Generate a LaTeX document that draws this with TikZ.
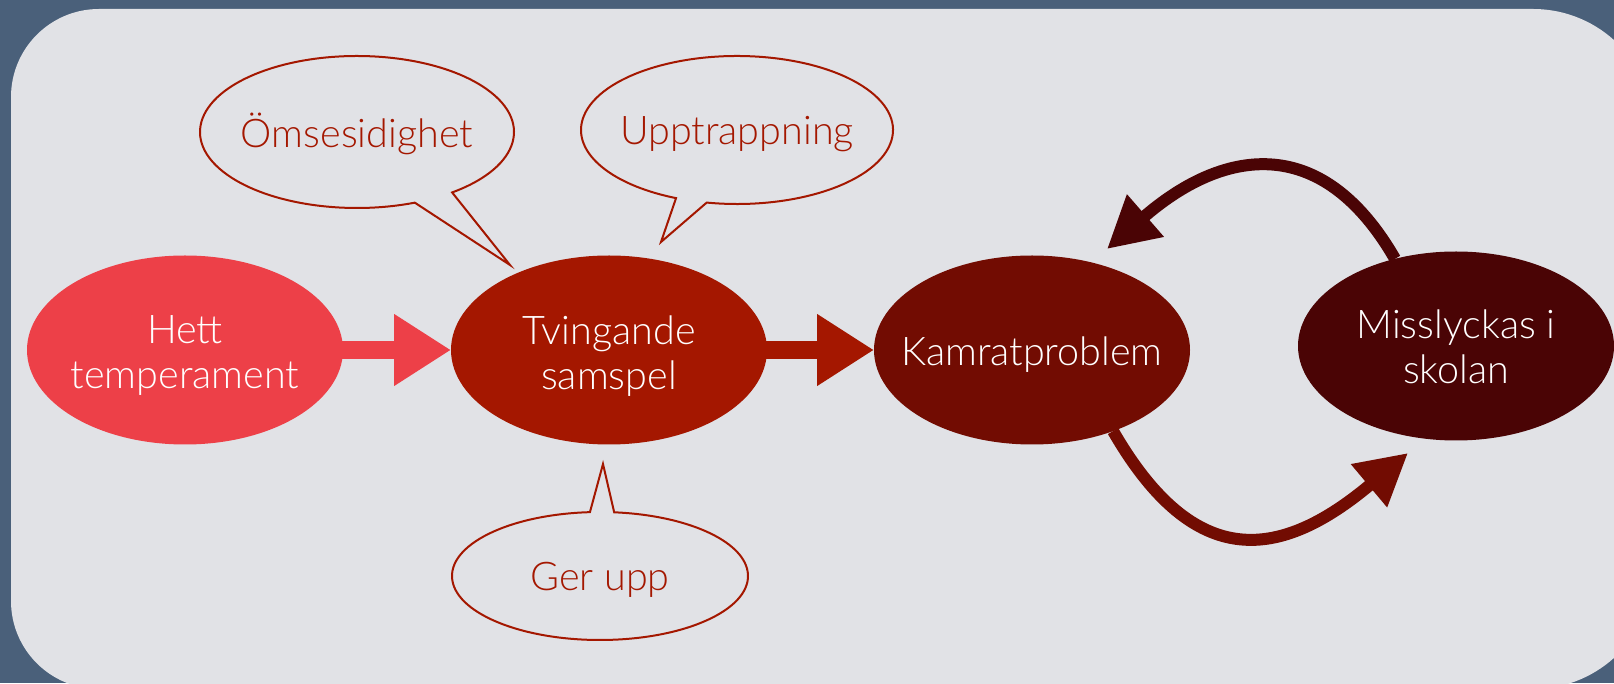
\documentclass[tikz,border=0pt]{standalone}
\usepackage{fontspec}
\setmainfont{Lato}[UprightFont={* Light}]
\usetikzlibrary{arrows.meta,shapes.geometric}
\definecolor{outerbg}{HTML}{4A607A}
\definecolor{panel}{HTML}{E1E2E6}
\definecolor{hettc}{HTML}{ED4048}
\definecolor{tvingc}{HTML}{A41700}
\definecolor{kamratc}{HTML}{720C02}
\definecolor{missc}{HTML}{4A0405}
\begin{document}
\begin{tikzpicture}[x=1pt,y=1pt,
  mainnode/.style={ellipse, inner sep=0pt, outer sep=0pt, minimum width=316pt, minimum height=189pt},
  maintext/.style={text=white, inner sep=0pt, align=center, font=\fontsize{39.5}{45}\selectfont},
  bubble/.style={draw=tvingc, line width=2pt, fill=panel, line join=miter},
  bubtext/.style={text=tvingc, inner sep=0pt, font=\fontsize{39.5}{45}\selectfont},
  blockarrow/.style={line width=18pt, -{Triangle[length=57pt,width=68pt]}},
  curvearrow/.style={line width=12pt, -{Triangle[length=51pt,width=53pt]}}
]
\useasboundingbox (0,0) rectangle (1614,683);
\clip (0,0) rectangle (1614,683);
\fill[outerbg] (0,0) rectangle (1614,683);
\fill[panel] (11,82) -- (11,586) arc[start angle=180,end angle=90,radius=88pt] -- (1533,674) arc[start angle=90,end angle=0,radius=121pt] -- (1654,115) arc[start angle=0,end angle=-90,radius=121pt] -- (99,-6) arc[start angle=270,end angle=180,radius=88pt] -- cycle;

% main nodes
\node[mainnode, fill=hettc] (hett) at (185,333) {};
\node[mainnode, fill=tvingc] (tving) at (609,333) {};
\node[mainnode, fill=kamratc] (kamrat) at (1032,333) {};
\node[mainnode, fill=missc] (miss) at (1456,337) {};
\node[maintext] (hettT) at ([yshift=-6pt]hett.center) {Hett\\temperament};
\node[maintext] (tvingT) at ([yshift=-6pt]tving.center) {Tvingande\\samspel};
\node[maintext] (kamratT) at ([yshift=-5pt]kamrat.center) {Kamratproblem};
\node[maintext] (missT) at ([yshift=-1pt]miss.center) {Misslyckas i\\skolan};

% block arrows
\draw[blockarrow, hettc] ([xshift=-10pt]hett.east) -- (tving.west);
\draw[blockarrow, tvingc] ([xshift=-10pt]tving.east) -- (kamrat.west);

% callouts
\coordinate (omsec) at (357,551);
\coordinate (omsetip) at (510,418);
\draw[bubble] (omsec) ++(-52.7:157pt and 76pt) arc[start angle=-52.7,end angle=291.6,x radius=157pt,y radius=76pt] -- (omsetip) -- cycle;
\node[bubtext] (omse) at ([yshift=-2pt]omsec) {Ömsesidighet};

\coordinate (uppc) at (737,553);
\coordinate (upptip) at (661,441);
\draw[bubble] (uppc) ++(-101.2:156pt and 74pt) arc[start angle=-101.2,end angle=247.0,x radius=156pt,y radius=74pt] -- (upptip) -- cycle;
\node[bubtext] (upp) at ([yshift=-4pt]uppc) {Upptrappning};

\coordinate (gerc) at (600,107);
\coordinate (gertip) at (603,219);
\draw[bubble] (gerc) ++(93.9:148pt and 64pt) arc[start angle=93.9,end angle=444.5,x radius=148pt,y radius=64pt] -- (gertip) -- cycle;
\node[bubtext] (ger) at ([yshift=-4pt]gerc) {Ger upp};

% curved arrows
\coordinate (toptip) at (1107,434);
\draw[curvearrow, missc] (miss.125) .. controls +(120:150pt) and +(41:150pt) .. (toptip);
\coordinate (bottip) at (1408,230);
\draw[curvearrow, kamratc] (kamrat.-45) .. controls +(-60:165pt) and +(220:165pt) .. (bottip);
\end{tikzpicture}
\end{document}
